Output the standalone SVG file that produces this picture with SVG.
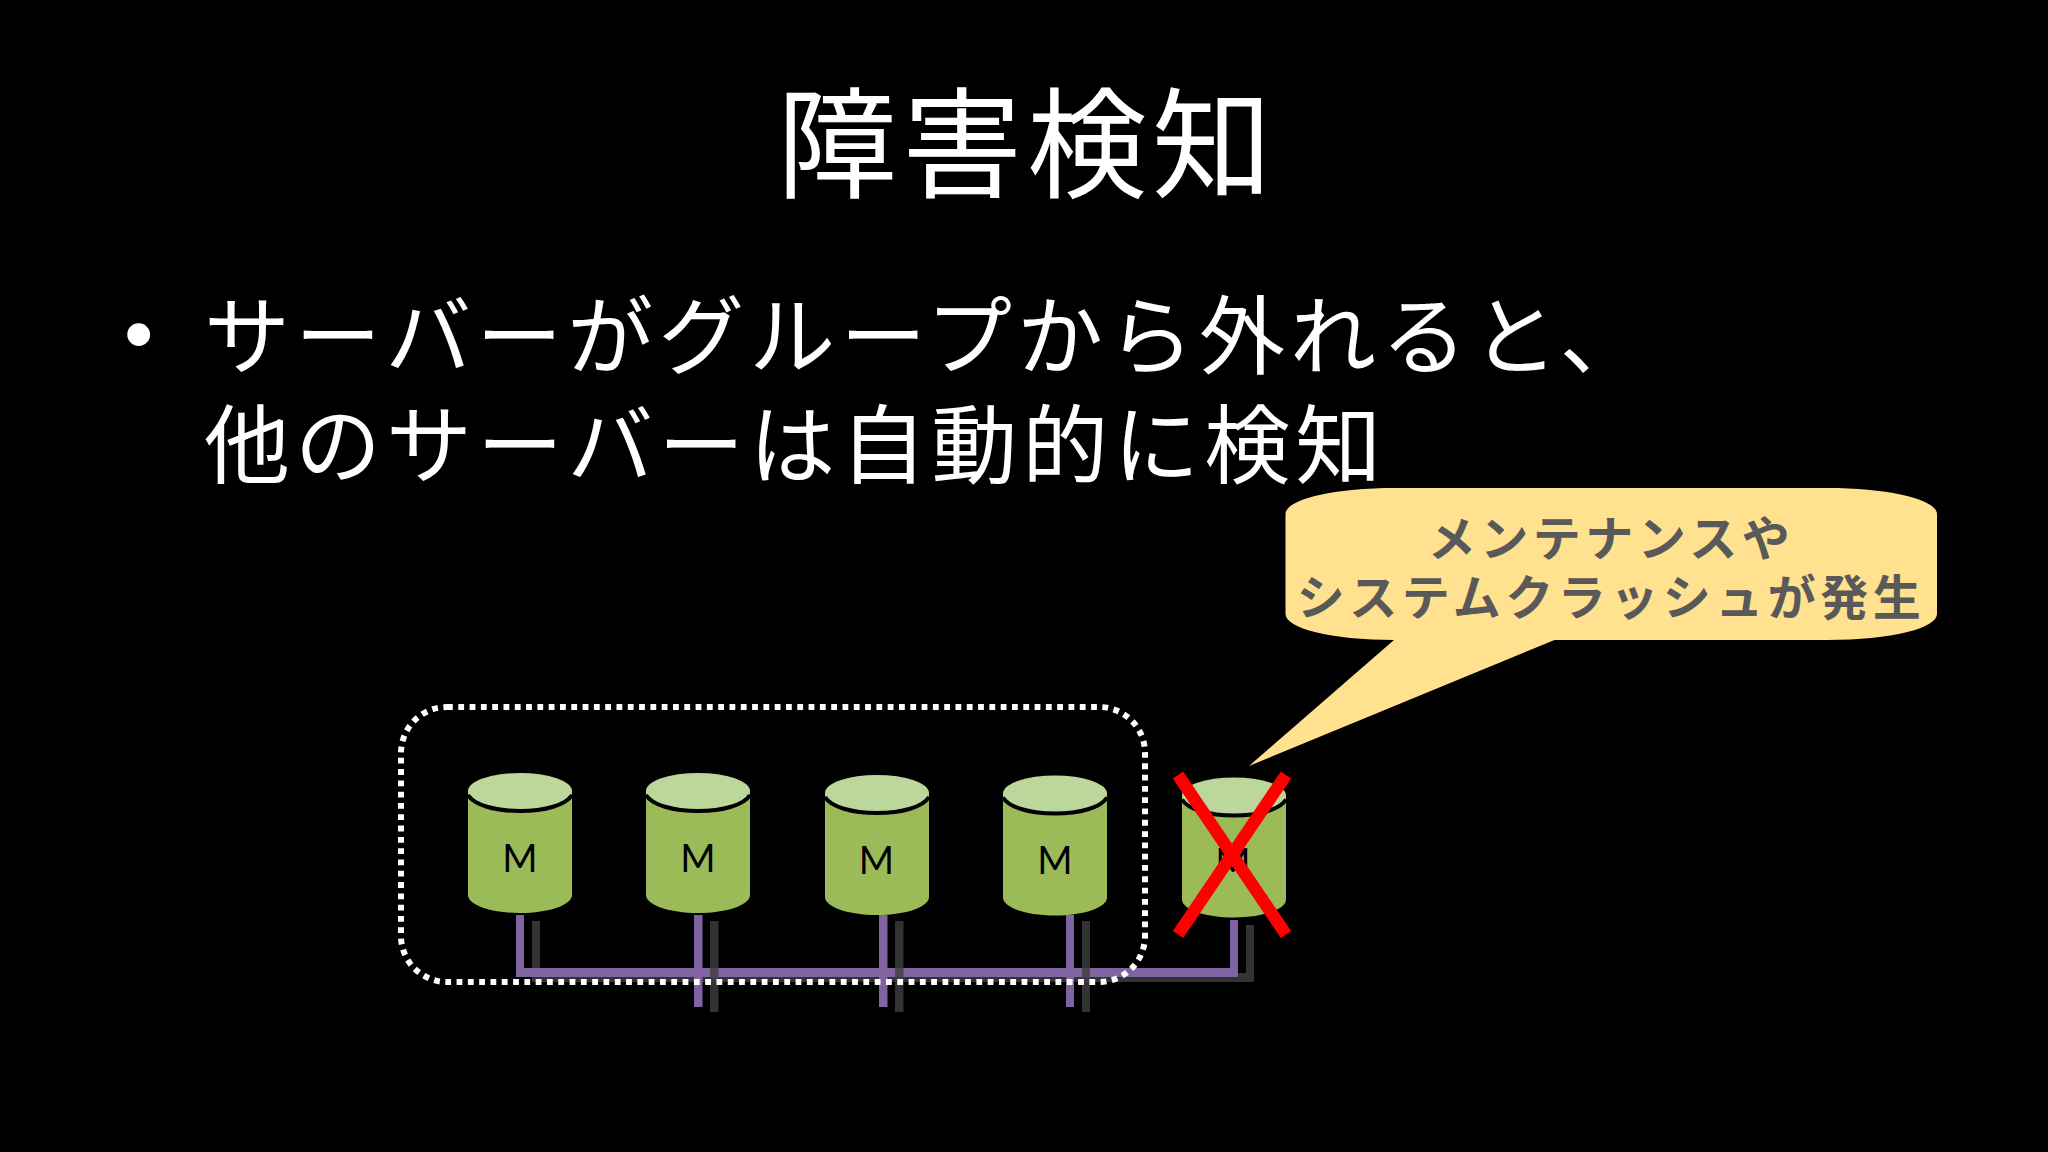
<svg xmlns="http://www.w3.org/2000/svg" width="2048" height="1152" viewBox="0 0 2048 1152">
<style>
text{font-family:"Noto Sans CJK JP","Noto Sans",sans-serif}
.title{font-size:120px;fill:#fff;font-weight:400;text-anchor:middle;letter-spacing:5px}
.body{font-size:86px;fill:#fff;font-weight:400;letter-spacing:5px}
.call{font-size:48px;fill:#595959;font-weight:700;text-anchor:middle;letter-spacing:4.500px}
.m{font-family:"Lato","Open Sans",sans-serif;font-size:38px;fill:#000;text-anchor:middle}
.side{fill:#9BBB59}
.top{fill:#BCD79B}
.rim{fill:none;stroke:#000;stroke-width:4}
.p{fill:#8064A2}
.d{fill:#333}
.dv{fill:#404040;fill-opacity:.8}
</style>
<defs>
<g id="cyl">
<path class="side" d="M0 18V122C0 132 23 140 52 140S104 132 104 122V18Z"/>
<ellipse class="top" cx="52" cy="18" rx="52" ry="18"/>
<path class="rim" d="M0 22C6 32 27 38 52 38S98 32 104 22"/>
</g>
</defs>
<rect width="2048" height="1152" fill="#000"/>
<text class="title" x="1027" y="189">障害検知</text>
<text id="b" class="body" x="124" y="362" style="font-family:'Liberation Sans',sans-serif;font-size:84px">•</text>
<text class="body" x="204" y="368">サーバーがグループから外れると、</text>
<text class="body" x="204" y="477">他のサーバーは自動的に検知</text>
<g id="connectors">
<path class="d" d="M532 921H540V973H1246V925H1254V982H532Z"/>
<rect class="p" x="516" y="915" width="8" height="62"/>
<rect class="p" x="516" y="968" width="722" height="9"/>
<rect class="p" x="1230" y="920" width="8" height="57"/>
<rect class="p" x="694" y="915" width="8.500" height="92"/>
<rect class="p" x="879" y="915" width="8.500" height="92"/>
<rect class="p" x="1066" y="915" width="8" height="92"/>
<rect class="dv" x="710" y="921" width="8.500" height="91"/>
<rect class="dv" x="895" y="921" width="8.500" height="91"/>
<rect class="dv" x="1082" y="921" width="8" height="91"/>
</g>
<g id="node1"><use href="#cyl" x="468" y="773"/><text class="m" x="520" y="872">M</text></g>
<g id="node2"><use href="#cyl" x="646" y="773"/><text class="m" x="698" y="872">M</text></g>
<g id="node3"><use href="#cyl" x="825" y="775"/><text class="m" x="876.500" y="874">M</text></g>
<g id="node4"><use href="#cyl" x="1003" y="775.500"/><text class="m" x="1055" y="874">M</text></g>
<g id="node5"><use href="#cyl" x="1182" y="777.500"/><text class="m" x="1233" y="876">M</text></g>
<g id="group"><rect x="401" y="707" width="744" height="275" rx="46" ry="46" fill="none" stroke="#fff" stroke-width="6" stroke-dasharray="5.800 5.500"/></g>
<g id="cross"><path d="M1178 775L1286 934.500M1286 775L1178 934.500" fill="none" stroke="#f00" stroke-width="12.500"/></g>
<g id="callout">
<path fill="#FFE18F" d="M1285.500 514C1285.500 500 1330 488 1395 488H1827C1892 488 1937 500 1937 514V614C1937 628 1892 640 1827 640H1554.500L1249 766L1394 640H1395C1330 640 1285.500 628 1285.500 614Z"/>
<text class="call" x="1611" y="556">メンテナンスや</text>
<text class="call" x="1611" y="615">システムクラッシュが発生</text>
</g>
</svg>
